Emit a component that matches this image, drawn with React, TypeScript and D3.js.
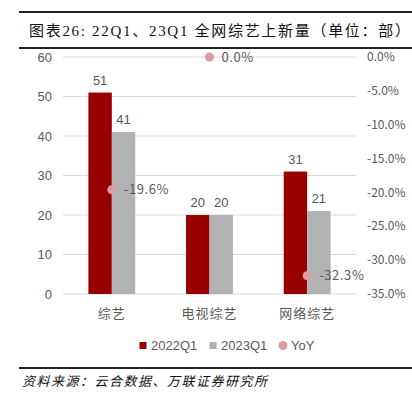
import React from 'react';
import * as d3 from 'd3';

// chart data
const categories = ['综艺', '电视综艺', '网络综艺'];
const q1_2022 = [51, 20, 31];
const q1_2023 = [41, 20, 21];
const yoy = [-19.6, 0.0, -32.3];
const leftTicks = [0, 10, 20, 30, 40, 50, 60];
const rightTicks = [0, -5, -10, -15, -20, -25, -30, -35];
const seriesNames = ['2022Q1', '2023Q1', 'YoY'];

const W = 412, H = 399;
const RED = '#990000', GRAY = '#B2B2B2', PINK = '#DE9C9C', TXT = '#595959';
const plot = {left: 63, right: 356, top: 57, bottom: 294};

export default function App() {
	// scales
	let x = d3.scaleBand()
		.domain(categories)
		.range([plot.left, plot.right])
		.paddingInner(0.52)
		.paddingOuter(0.26);
	let y = d3.scaleLinear().domain([0, 60]).range([plot.bottom, plot.top]);
	let y2 = d3.scaleLinear().domain([-35, 0]).range([plot.bottom, plot.top]);
	let bw = x.bandwidth() / 2;
	let fmtPct = (v: number) => d3.format('.1f')(v).replace('−', '-') + '%';

	return (
		<div style={{position: 'absolute', left: 0, top: 0}}>
			<svg width={W} height={H} style={{display: 'block', background: '#fff'}}>
				{/* title block */}
				<line x1={19} x2={W} y1={12} y2={12} stroke="#222" strokeWidth={2} />
				<text x={29} y={36} fontSize={15} fill="#111" letterSpacing={1.7}
					fontFamily="'Liberation Serif', 'Noto Sans CJK SC', serif">
					图表26:  22Q1、23Q1 全网综艺上新量（单位：部）
				</text>
				<line x1={19} x2={W} y1={48} y2={48} stroke="#222" strokeWidth={2} />

				{/* gridlines + left axis */}
				{leftTicks.map(t => (
					<g key={'l' + t}>
						<line x1={plot.left} x2={plot.right} y1={y(t)} y2={y(t)} stroke="#D9D9D9" strokeWidth={1} />
						<text x={52} y={y(t)} dy="0.35em" textAnchor="end" fontSize={13} fill={TXT}
							fontFamily="'Liberation Sans', Arial, sans-serif">{t}</text>
					</g>
				))}
				{/* right axis */}
				{rightTicks.map(t => (
					<text key={'r' + t} x={367} y={y2(t)} dy="0.35em" fontSize={12} fill={TXT}
						fontFamily="'Noto Sans CJK SC', sans-serif">{fmtPct(t)}</text>
				))}

				{/* bars */}
				{categories.map((c, i) => (
					<g key={c}>
						<rect x={x(c)} y={y(q1_2022[i])} width={bw} height={y(0) - y(q1_2022[i])} fill={RED} />
						<rect x={x(c)! + bw} y={y(q1_2023[i])} width={bw} height={y(0) - y(q1_2023[i])} fill={GRAY} />
						<text x={x(c)! + bw / 2} y={y(q1_2022[i]) - 8} textAnchor="middle" fontSize={13} fill={TXT}
							fontFamily="'Liberation Sans', Arial, sans-serif">{q1_2022[i]}</text>
						<text x={x(c)! + bw * 1.5} y={y(q1_2023[i]) - 8} textAnchor="middle" fontSize={13} fill={TXT}
							fontFamily="'Liberation Sans', Arial, sans-serif">{q1_2023[i]}</text>
						<text x={x(c)! + bw} y={318} textAnchor="middle" fontSize={13} fill={TXT}
							letterSpacing={1} fontFamily="'Noto Sans CJK SC', sans-serif">{c}</text>
					</g>
				))}

				{/* YoY points */}
				{categories.map((c, i) => (
					<g key={'y' + c}>
						<circle cx={x(c)! + bw} cy={y2(yoy[i])} r={4.5} fill={PINK} />
						<text x={x(c)! + bw + 12} y={y2(yoy[i])} dy="0.35em" fontSize={13} fill={TXT}
							letterSpacing={0.6} fontFamily="'Noto Sans CJK SC', sans-serif">{fmtPct(yoy[i])}</text>
					</g>
				))}

				{/* legend */}
				{seriesNames.map((s, i) => {
					let lx = [143, 213, 283][i];
					return (
						<g key={s}>
							{i < 2
								? <rect x={lx - 3.5} y={342} width={7} height={7} fill={i === 0 ? RED : GRAY} />
								: <circle cx={lx} cy={345.5} r={4.5} fill={PINK} />}
							<text x={lx + 8} y={345.5} dy="0.35em" fontSize={13} fill={TXT}
								fontFamily="'Liberation Sans', Arial, sans-serif">{s}</text>
						</g>
					);
				})}

				{/* source */}
				<line x1={19} x2={W} y1={368} y2={368} stroke="#222" strokeWidth={2} />
				<text x={22} y={386} fontSize={13} fill="#111" fontStyle="italic" letterSpacing={1.5}
					fontFamily="'Noto Sans CJK SC', sans-serif">资料来源：云合数据、万联证券研究所</text>
			</svg>
		</div>
	);
}
